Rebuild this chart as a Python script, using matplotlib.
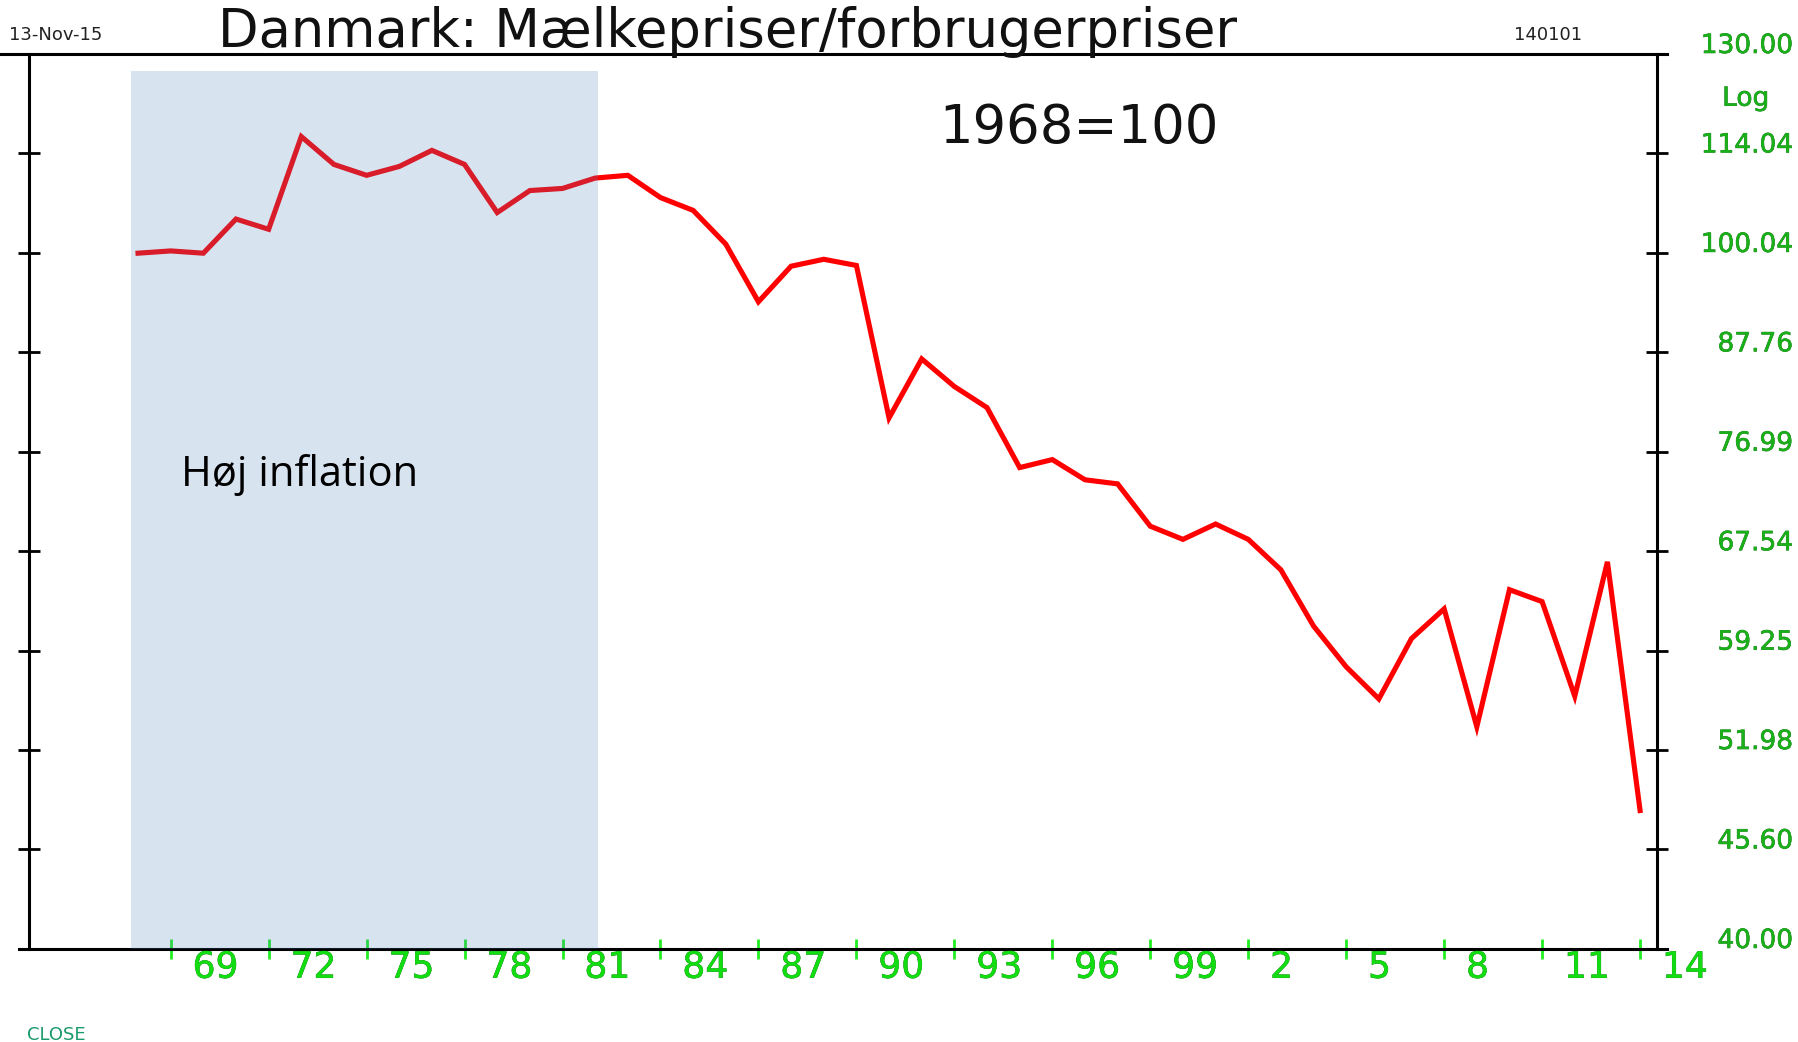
import matplotlib
matplotlib.use("Agg")
import matplotlib.pyplot as plt
import matplotlib.ticker as mticker
import matplotlib.transforms as mtransforms
import matplotlib.patheffects as pe

# data: mælkepriser / forbrugerpriser, 1968 = 100 (aflæst)
years = list(range(1968, 2015))
values = [100.0, 100.3, 100.0, 104.6, 103.2, 116.6, 112.4, 110.8, 112.1, 114.5,
          112.4, 105.5, 108.6, 108.9, 110.4, 110.8, 107.6, 105.8, 101.2, 93.8,
          98.3, 99.2, 98.4, 80.5, 87.0, 83.9, 81.6, 75.4, 76.2, 74.2,
          73.8, 69.8, 68.6, 70.0, 68.6, 65.9, 61.2, 58.0, 55.6, 60.2,
          62.6, 53.6, 64.2, 63.2, 55.8, 66.6, 48.0]

ytick_vals = [40.00, 45.60, 51.98, 59.25, 67.54, 76.99, 87.76, 100.04, 114.04, 130.00]
xtick_years = [1969, 1972, 1975, 1978, 1981, 1984, 1987, 1990, 1993, 1996,
               1999, 2002, 2005, 2008, 2011, 2014]
xtick_labels = ["69", "72", "75", "78", "81", "84", "87", "90", "93", "96",
                "99", "2", "5", "8", "11", "14"]
shade_start, shade_end = 1967.8, 1982.1

plt.rcParams['font.family'] = ['DejaVu Sans']

fig = plt.figure(figsize=(17.99, 10.42), dpi=100)
ax = fig.add_axes([0.0161, 0.0893, 0.9050, 0.8589])

ax.plot(years, values, color="#ff0000", lw=3.7, solid_joinstyle="miter", zorder=2)
# skravering ligger oven på linjen (derfor den mørkere røde farve)
ax.axvspan(shade_start, shade_end, ymin=0, ymax=0.981, color="#4f81bd", alpha=0.22, lw=0, zorder=3)

ax.set_yscale("log")
ax.set_ylim(40, 130)
ax.set_xlim(1964.66, 2014.52)

ax.yaxis.set_major_locator(mticker.FixedLocator(ytick_vals))
ax.yaxis.set_minor_locator(mticker.NullLocator())
ax.tick_params(axis="y", which="major", left=True, right=True, direction="inout",
               length=16, width=2, color="black", labelleft=False, labelright=False)

ax.xaxis.set_major_locator(mticker.FixedLocator(xtick_years))
ax.xaxis.set_minor_locator(mticker.NullLocator())
ax.tick_params(axis="x", which="major", bottom=True, direction="inout",
               length=15, width=2, color="#22ee22", labelbottom=False)

for s in ["top", "bottom"]:
    ax.spines[s].set_visible(False)
for s in ["left", "right"]:
    ax.spines[s].set_linewidth(2.2)

# top og bund linjer lidt længere end akserne
ax.plot([-0.0178, 1.006], [1, 1], transform=ax.transAxes, color="black", lw=2.2, clip_on=False)
ax.plot([-0.006, 1.006], [0, 0], transform=ax.transAxes, color="black", lw=2.2, clip_on=False)

green_edge = [pe.withStroke(linewidth=0.4, foreground="#0a6a0a")]

# y-labels til højre
ytrans = mtransforms.offset_copy(ax.get_yaxis_transform(), fig=fig, x=0, y=8, units="dots")
for v in ytick_vals:
    ax.text(1.0835, v, f"{v:.2f}", transform=ytrans, ha="right", va="center",
            fontsize=19, color="#19b019", path_effects=green_edge)
ax.text(1.0835 - 0.0145, 0.95, "Log", transform=ax.transAxes, ha="right", va="center",
        fontsize=19, color="#19b019", path_effects=green_edge)

# x-labels
for yr, lab in zip(xtick_years, xtick_labels):
    ax.text(yr + 0.67, -0.021, lab, transform=ax.get_xaxis_transform(), ha="left", va="center",
            fontsize=26, color="#11dd11", path_effects=green_edge)

fig.text(0.4045, 0.969, "Danmark: Mælkepriser/forbrugerpriser", ha="center", va="center",
         fontsize=38, color="#111111")
fig.text(0.005, 0.966, "13-Nov-15", ha="left", va="center", fontsize=13, color="#222222")
fig.text(0.8415, 0.966, "140101", ha="left", va="center", fontsize=13, color="#222222")
fig.text(0.522, 0.877, "1968=100", ha="left", va="center", fontsize=38, color="#111111")
fig.text(0.1006, 0.544, "Høj inflation", ha="left", va="center", fontsize=30,
         family="Open Sans", color="black")
fig.text(0.015, 0.002, "CLOSE", ha="left", va="baseline", fontsize=13, color="#1a9a6a")

fig.savefig("out.png", dpi=100)
